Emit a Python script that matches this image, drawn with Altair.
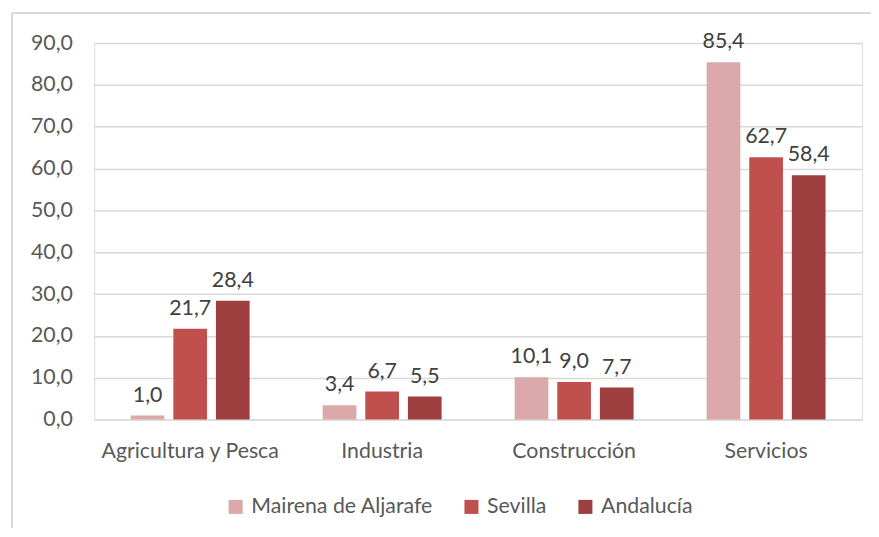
import altair as alt
import pandas as pd

categories = ["Agricultura y Pesca", "Industria", "Construcción", "Servicios"]
series = ["Mairena de Aljarafe", "Sevilla", "Andalucía"]
mairena = [1.0, 3.4, 10.1, 85.4]
sevilla = [21.7, 6.7, 9.0, 62.7]
andalucia = [28.4, 5.5, 7.7, 58.4]
colors = ["#DBA9A9", "#C0504D", "#9C3F3E"]
y_ticks = [0, 10, 20, 30, 40, 50, 60, 70, 80, 90]

rows = []
for s, vals in zip(series, [mairena, sevilla, andalucia]):
    for c, v in zip(categories, vals):
        rows.append({"categoria": c, "serie": s, "valor": v})
df = pd.DataFrame(rows)

FONT = "Lato"
FS = 21.5

base = alt.Chart(df).encode(
    x=alt.X("categoria:N", sort=categories, title=None,
            scale=alt.Scale(paddingInner=0.3806, paddingOuter=0.1903),
            axis=alt.Axis(labelAngle=0, labelFontSize=FS, labelColor="#595959",
                          labelFont=FONT, labelPadding=21, ticks=False, domain=False,
                          grid=False, labelLimit=400)),
    xOffset=alt.XOffset("serie:N", sort=series,
                        scale=alt.Scale(paddingInner=0.209, paddingOuter=0)),
)

bars = base.mark_bar().encode(
    y=alt.Y("valor:Q", title=None,
            scale=alt.Scale(domain=[0, 90], nice=False),
            axis=alt.Axis(values=y_ticks, labelFontSize=FS, labelColor="#595959",
                          labelFont=FONT, labelPadding=22, ticks=False, domain=False,
                          gridColor="#D9D9D9", gridWidth=1.5,
                          labelExpr="replace(format(datum.value, '.1f'), '.', ',')")),
    color=alt.Color("serie:N", sort=series,
                    scale=alt.Scale(domain=series, range=colors),
                    legend=alt.Legend(title=None, orient="none", direction="horizontal",
                                      legendX=132, legendY=457,
                                      symbolType="square", symbolSize=200,
                                      symbolStrokeWidth=0, labelLimit=400,
                                      labelFontSize=FS, labelColor="#595959",
                                      labelFont=FONT, columnPadding=28,
                                      labelOffset=5)),
)

labels = base.transform_calculate(
    txt="replace(format(datum.valor, '.1f'), '.', ',')"
).mark_text(baseline="alphabetic", dy=-14, fontSize=FS, color="#404040", font=FONT).encode(
    y=alt.Y("valor:Q"),
    text="txt:N",
)

border_left = alt.Chart(df).mark_rule(color="#D9D9D9", strokeWidth=1.5).encode(
    x=alt.value(-83), y=alt.value(-30), y2=alt.value(520))
border_top = alt.Chart(df).mark_rule(color="#D9D9D9", strokeWidth=1.5).encode(
    x=alt.value(-83), x2=alt.value(820), y=alt.value(-30))

chart = alt.layer(border_left, border_top, bars, labels).properties(
    width=775, height=380,
    autosize=alt.AutoSizeParams(type="none"),
    padding={"left": 87, "top": 33, "right": 9, "bottom": 107},
).configure_view(stroke=None).configure(background="white")

chart.save("out.html", embed_options={"renderer": "svg", "actions": False})
